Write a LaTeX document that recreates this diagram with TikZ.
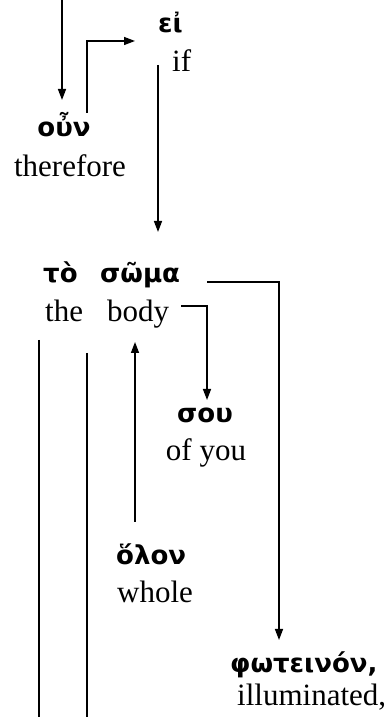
\documentclass[tikz,border=0pt]{standalone}
\usepackage{fontspec}
\setmainfont{Liberation Serif}
\newfontfamily\grk{DejaVu Sans}
\usetikzlibrary{arrows.meta}
\tikzset{
  gr/.style={inner sep=0pt, font=\grk\bfseries\fontsize{26}{30}\selectfont},
  en/.style={inner sep=0pt, font=\fontsize{31}{36}\selectfont},
  conn/.style={line width=1.4pt, -{Triangle[length=11pt,width=8pt]}},
  plain/.style={line width=1.4pt},
}
\begin{document}
\begin{tikzpicture}[x=1pt,y=1pt]
\useasboundingbox (0,0) rectangle (389,717);
% texts (y = 717 - pixel row of baseline)
\node[gr, anchor=base] (oun) at (64,580) {οὖν};
\node[en, anchor=base] (therefore) at (70,540) {therefore};
\node[gr, anchor=base west] (ei) at (158,684) {εἰ};
\node[en, anchor=base west] (if) at (172,645) {if};
\node[gr, anchor=base west] (to) at (43,434) {τὸ};
\node[gr, anchor=base west] (soma) at (100,434) {σῶμα};
\node[en, anchor=base west] (the) at (45,395) {the};
\node[en, anchor=base west] (body) at (107,395) {body};
\node[gr, anchor=base] (sou) at (205,294) {σου};
\node[en, anchor=base] (ofyou) at (206,256) {of you};
\node[gr, anchor=base west] (olon) at (116,152) {ὅλον};
\node[en, anchor=base west] (whole) at (117,114) {whole};
\node[gr, anchor=base west] (fwt) at (230,44) {φωτεινόν,};
\node[en, anchor=base west] (illum) at (237,12) {illuminated,};
% connector endpoints
\coordinate (in1) at (62,717);
\coordinate (t1) at (62,617);
\coordinate (s2) at (87,604);
\coordinate (c2) at (87,676);
\coordinate (t2) at (135,676);
\coordinate (s3) at (158,652);
\coordinate (t3) at (158,485);
\coordinate (s4) at (207,435);
\coordinate (c4) at (279,435);
\coordinate (t4) at (279,77);
\coordinate (s5) at (181,411);
\coordinate (c5) at (207,411);
\coordinate (t5) at (207,317);
\coordinate (s6) at (135,195);
\coordinate (t6) at (135,375);
\coordinate (s7) at (39,377);
\coordinate (e7) at (39,0);
\coordinate (s8) at (87,364);
\coordinate (e8) at (87,0);
% connectors
\draw[conn] (in1) -- (t1);
\draw[conn] (s2) -- (c2) -- (t2);
\draw[conn] (s3) -- (t3);
\draw[conn] (s4) -- (c4) -- (t4);
\draw[conn] (s5) -- (c5) -- (t5);
\draw[conn] (s6) -- (t6);
\draw[plain] (s7) -- (e7);
\draw[plain] (s8) -- (e8);
\end{tikzpicture}
\end{document}
